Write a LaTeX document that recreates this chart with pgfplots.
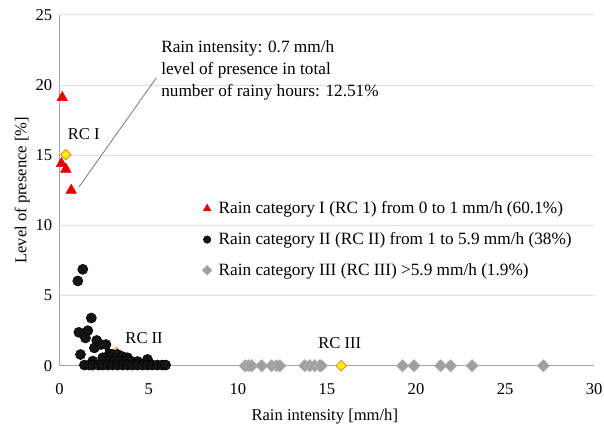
\documentclass[border=0pt]{standalone}
\usepackage{fontspec}
\setmainfont{Liberation Serif}
\usepackage{pgfplots}
\pgfplotsset{compat=1.18}
\begin{document}
\begin{tikzpicture}[font=\fontsize{12.5}{15}\selectfont]
  \begin{axis}[
      scale only axis,
      width=403pt, height=264.5pt,
      xmin=0, xmax=30, ymin=0, ymax=25,
      xtick={0,5,...,30},
      ytick={0,5,...,25},
      /pgf/number format/assume math mode=true,
      tick style={draw=none},
      xticklabel style={yshift=-10pt},
      yticklabel style={xshift=-2pt},
      axis x line*=bottom,
      axis y line*=left,
      axis line style={gray!70, line width=0.8pt},
      ymajorgrids=true,
      grid style={gray!25, line width=0.6pt},
      xlabel={Rain intensity [mm/h]},
      ylabel={Level of presence [\%]},
      xlabel style={at={(axis description cs:0.496,-0.145)}, anchor=center},
      ylabel style={at={(axis description cs:-0.07,0.5)}, anchor=center},
      clip=false,
      legend style={draw=none, fill=none, at={(axis cs:7.99,11.9)}, anchor=north west,
        inner sep=0pt, row sep=8.6pt, column sep=3pt, font=\fontsize{13}{15}\selectfont},
      legend cell align=left,
    ]
    % hidden yellow mean marker behind RC II
    \addplot[only marks, mark=square*, mark options={rotate=45}, mark size=2.7pt,
      fill=yellow, draw=orange!80!black, forget plot]
      coordinates {(3.2,0.95)};
    \addplot[only marks, mark=triangle*, mark size=4.6pt, color=red!90!black,
      legend image post style={mark size=3.4pt}]
      coordinates {(0.15,19.1) (0.1,14.4) (0.35,14.0) (0.65,12.5)};
    \addlegendentry{Rain category I (RC 1) from 0 to 1 mm/h (60.1\%)}
    \addplot[only marks, mark=*, mark size=3.8pt, draw=black, fill=black!92,
      legend image post style={mark size=2.8pt}]
      coordinates {
        (1.30,6.87) (1.02,6.04) (1.78,3.4) (1.08,2.38) (1.58,2.5) (1.45,1.98)
        (2.08,1.8) (1.95,1.27) (2.32,1.51) (2.6,1.51) (1.17,0.8)
        (2.79,0.85) (2.97,0.8) (3.25,0.8) (3.53,0.65) (3.81,0.57) (2.42,0.57)
        (1.86,0.33) (2.42,0.33) (2.79,0.33) (3.07,0.33) (3.35,0.33) (3.72,0.33)
        (4.0,0.33) (4.37,0.3) (4.93,0.45)
        (1.39,0.05) (1.67,0.05) (1.86,0.05) (2.19,0.05) (2.42,0.05) (2.7,0.05)
        (2.97,0.05) (3.25,0.05) (3.53,0.05) (3.81,0.05) (4.09,0.05) (4.37,0.05)
        (4.65,0.05) (4.93,0.05) (5.2,0.05) (5.48,0.05) (5.76,0.05) (5.95,0.05)
      };
    \addlegendentry{Rain category II (RC II) from 1 to 5.9 mm/h (38\%)}
    \addplot[only marks, mark=square*, mark options={rotate=45}, mark size=3.3pt,
      fill=gray!75, draw=gray!60, legend image post style={mark size=2.6pt}]
      coordinates {
        (10.41,0) (10.6,0) (10.78,0) (11.34,0) (11.9,0) (12.18,0) (12.36,0)
        (13.76,0) (14.04,0) (14.32,0) (14.6,0) (14.69,0)
        (19.24,0) (19.89,0) (21.38,0) (21.94,0) (23.15,0) (27.15,0)
      };
    \addlegendentry{Rain category III (RC III) \textgreater5.9 mm/h (1.9\%)}
    \addplot[only marks, mark=square*, mark options={rotate=45}, mark size=2.8pt,
      fill=yellow, draw=orange!80!black, forget plot]
      coordinates {(0.35,15.05) (15.8,0)};
    \node[anchor=west, inner sep=0pt] at (axis cs:0.45,16.5) {RC I};
    \node[anchor=west, inner sep=0pt] at (axis cs:3.68,1.98) {RC II};
    \node[anchor=west, inner sep=0pt] at (axis cs:14.5,1.63) {RC III};
    \draw[gray!80!black, line width=0.5pt] (axis cs:1.08,12.73) -- (axis cs:5.43,20.52);
    \node[anchor=north west, align=left, inner sep=0pt, font=\fontsize{13}{16.5}\selectfont]
      at (axis cs:5.69,23.19)
      {Rain intensity: 0.7 mm/h\\level of presence in total\\number of rainy hours: 12.51\%};
    % picture frame as in the reference, wide enough for the last tick label
    \coordinate (bl) at (axis cs:-3.346,-4.11);
    \coordinate (tr) at (axis cs:30.55,26.06);
  \end{axis}
  \pgfresetboundingbox
  \path[use as bounding box] (bl) rectangle (tr);
\end{tikzpicture}
\end{document}
